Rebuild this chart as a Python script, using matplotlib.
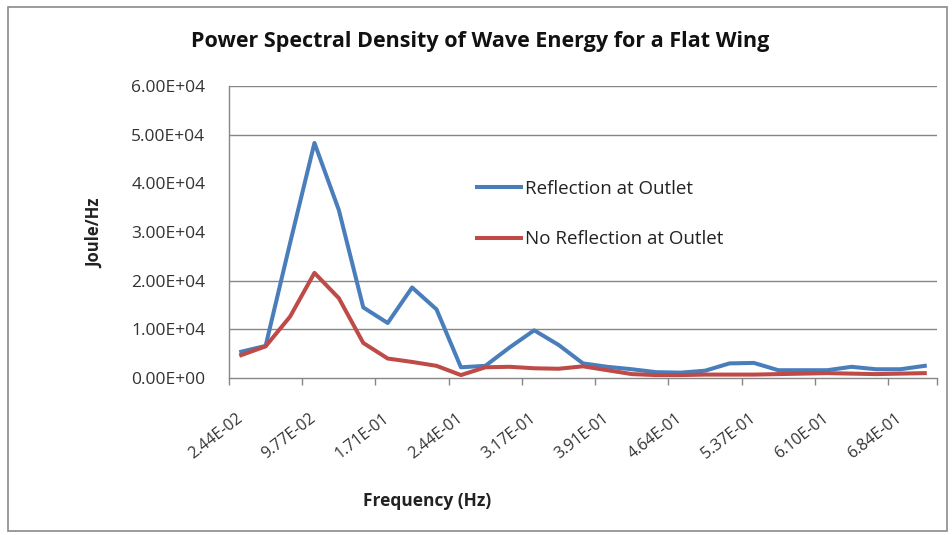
import matplotlib
matplotlib.use('Agg')
import matplotlib.pyplot as plt
from matplotlib.patches import Rectangle

# category labels (Hz), one per FFT bin
freq_labels = ['2.44E-02', '4.88E-02', '7.32E-02', '9.77E-02', '1.22E-01', '1.46E-01',
               '1.71E-01', '1.95E-01', '2.20E-01', '2.44E-01', '2.69E-01', '2.93E-01',
               '3.17E-01', '3.42E-01', '3.66E-01', '3.91E-01', '4.15E-01', '4.39E-01',
               '4.64E-01', '4.88E-01', '5.13E-01', '5.37E-01', '5.62E-01', '5.86E-01',
               '6.10E-01', '6.35E-01', '6.59E-01', '6.84E-01', '7.08E-01']

# Joule/Hz
reflection = [5400, 6600, 27700, 48300, 34500, 14500, 11300, 18600, 14100, 2200,
              2500, 6300, 9800, 6800, 3000, 2300, 1800, 1200, 1100, 1500,
              3000, 3100, 1600, 1600, 1600, 2300, 1800, 1800, 2500]
no_reflection = [4700, 6500, 12600, 21600, 16400, 7200, 4000, 3300, 2500, 600,
                 2200, 2300, 2000, 1900, 2400, 1600, 800, 600, 600, 700,
                 700, 700, 800, 900, 1000, 900, 800, 900, 1000]

y_ticks = [0, 10000, 20000, 30000, 40000, 50000, 60000]
y_tick_labels = ['0.00E+00', '1.00E+04', '2.00E+04', '3.00E+04', '4.00E+04', '5.00E+04', '6.00E+04']
grid_values = [10000, 20000, 50000, 60000]  # 3E4/4E4 lines missing in the original

plt.rcParams['font.family'] = ['Open Sans', 'DejaVu Sans']

W, H = 952, 535
fig = plt.figure(figsize=(W / 100, H / 100), dpi=100)

def px(x0, y0, x1, y1):
    return [x0 / W, 1 - y1 / H, (x1 - x0) / W, (y1 - y0) / H]

ax = fig.add_axes(px(229, 86, 937, 378))

for g in grid_values:
    ax.axhline(g, color='#868686', lw=1, zorder=1)

x = list(range(len(freq_labels)))
ax.plot(x, reflection, color='#4A7EBB', lw=2.9, label='Reflection at Outlet',
        solid_joinstyle='round', zorder=3)
ax.plot(x, no_reflection, color='#BE4B48', lw=2.9, label='No Reflection at Outlet',
        solid_joinstyle='round', zorder=3)

ax.set_xlim(-0.5, len(freq_labels) - 0.5)
ax.set_ylim(0, 60000)

# y axis: labels on every step, tick marks where the original has them
ax.set_yticks(y_ticks)
ax.set_yticklabels(y_tick_labels)
ax.set_yticks([0] + grid_values, minor=True)
ax.tick_params(axis='y', which='major', length=0, pad=17, labelsize=12.5, labelcolor='#333333')
ax.tick_params(axis='y', which='minor', length=6, width=1, color='#868686', direction='out')

# x axis: marks between categories every 3, labels on every 3rd category
label_idx = list(range(0, len(freq_labels), 3))
ax.set_xticks([i - 0.5 for i in label_idx] + [len(freq_labels) - 0.5])
ax.set_xticklabels([])
ax.set_xticks(label_idx, minor=True)
ax.set_xticklabels([freq_labels[i] for i in label_idx], minor=True,
                   rotation=38, ha='right', va='center', rotation_mode='anchor')
ax.tick_params(axis='x', which='major', length=5, width=1, color='#868686', direction='out')
ax.tick_params(axis='x', which='minor', length=0, pad=28, labelsize=11.5, labelcolor='#333333')

for s in ['top', 'right']:
    ax.spines[s].set_visible(False)
for s in ['left', 'bottom']:
    ax.spines[s].set_color('#868686')
    ax.spines[s].set_linewidth(1)

ax.set_xlabel('Frequency (Hz)', fontsize=12.5, fontweight='bold', color='#222222')
ax.xaxis.set_label_coords(427 / W, 1 - 492 / H, transform=fig.transFigure)
ax.set_ylabel('Joule/Hz', fontsize=12, fontweight='bold', color='#222222')
ax.yaxis.set_label_coords(104 / W, 1 - 233 / H, transform=fig.transFigure)

fig.text(480 / W, 1 - 41 / H, 'Power Spectral Density of Wave Energy for a Flat Wing',
         ha='center', va='center', fontsize=15.5, fontweight='bold', color='#111111')

ax.legend(loc='upper left', bbox_to_anchor=(477 / W, 1 - 180 / H), bbox_transform=fig.transFigure,
          frameon=False, fontsize=13.5, handlelength=2.35, handletextpad=0.2,
          borderpad=0, borderaxespad=0, labelspacing=1.72, labelcolor='#222222')

# outer chart frame
fig.patches.append(Rectangle((8 / W, 1 - 531 / H), 939 / W, 524 / H, transform=fig.transFigure,
                             fill=False, edgecolor='#8a8a8a', lw=1.2))

fig.savefig('out.png', dpi=100)
